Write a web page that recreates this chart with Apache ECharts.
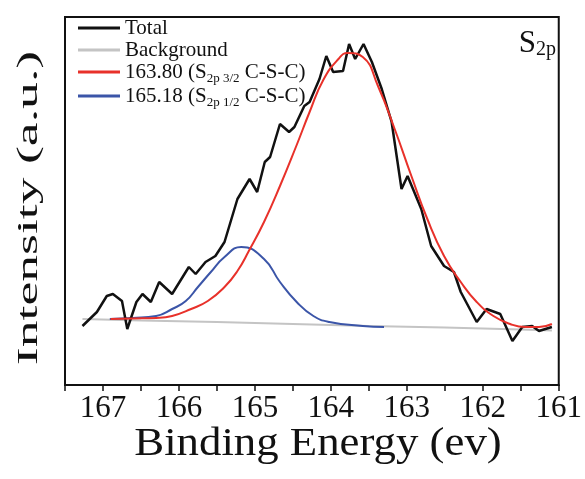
<!DOCTYPE html>
<html>
<head>
<meta charset="utf-8">
<script src="https://cdn.jsdelivr.net/npm/echarts@6/dist/echarts.min.js"></script>
<style>
  html, body { margin: 0; padding: 0; background: #fff; }
  #main { width: 585px; height: 479px; }
</style>
</head>
<body>
<div id="main"></div>
<script>
// binding energy (eV) / intensity (a.u.)
const totalData = [
  [167.27, 59], [167.08, 73], [166.95, 89], [166.87, 91], [166.75, 84], [166.68, 56],
  [166.56, 83], [166.48, 91], [166.37, 83], [166.26, 103], [166.09, 91], [165.87, 118],
  [165.78, 111], [165.65, 123], [165.52, 129], [165.40, 143], [165.23, 186], [165.07, 206],
  [164.97, 193], [164.87, 223], [164.80, 228], [164.67, 261], [164.55, 253], [164.48, 258],
  [164.35, 279], [164.28, 283], [164.15, 306], [164.06, 329], [163.97, 313], [163.84, 314],
  [163.76, 341], [163.68, 326], [163.57, 341], [163.46, 323], [163.33, 296], [163.20, 263],
  [163.07, 196], [162.99, 209], [162.81, 176], [162.68, 139], [162.51, 119], [162.38, 113],
  [162.29, 93], [162.08, 63], [161.95, 76], [161.77, 71], [161.61, 44], [161.48, 58],
  [161.35, 59], [161.26, 54], [161.09, 58]
]
const backgroundData = [
  [167.27, 66], [166.5, 64.5], [165.5, 63], [164.5, 61], [163.5, 59], [162.5, 57.5],
  [161.5, 55.5], [161.09, 54.5]
]
const peak1Data = [ // 163.80
  [166.9, 66], [166.61, 66.5], [166.30, 67], [166.09, 69], [165.84, 76], [165.62, 84],
  [165.40, 98], [165.23, 114], [165.08, 134], [164.88, 163], [164.67, 199], [164.45, 240],
  [164.28, 273], [164.10, 305], [163.90, 326], [163.78, 332], [163.58, 328], [163.38, 299],
  [163.16, 256], [162.94, 209], [162.73, 166], [162.51, 129], [162.29, 103], [162.08, 83],
  [161.86, 69], [161.64, 61], [161.44, 58], [161.26, 58], [161.09, 61]
]
const peak2Data = [ // 165.18
  [166.91, 66], [166.61, 67], [166.30, 69], [166.09, 76], [165.91, 84], [165.75, 98],
  [165.58, 113], [165.40, 128], [165.18, 138], [164.88, 126], [164.67, 103], [164.45, 83],
  [164.23, 69], [164.02, 63], [163.58, 59], [163.3, 58]
]
const xTicks = [167, 166, 165, 164, 163, 162, 161]

const names = ['Total', 'Background', '163.80 (S2p 3/2 C-S-C)', '165.18 (S2p 1/2 C-S-C)']
const legendText = {
  'Total': 'Total',
  'Background': 'Background',
  '163.80 (S2p 3/2 C-S-C)': '163.80 (S{s|2p 3/2} C-S-C)',
  '165.18 (S2p 1/2 C-S-C)': '165.18 (S{s|2p 1/2} C-S-C)'
}
const serif = '"Liberation Serif", "Times New Roman", serif'

let myChart = echarts.init(document.getElementById('main'))
let option = {
  animation: false,
  backgroundColor: '#fff',
  title: {
    text: '{a|S}{b|2p}',
    right: 24,
    top: 23,
    textStyle: {
      fontWeight: 'normal',
      rich: {
        a: { fontFamily: serif, fontSize: 31, fontWeight: 'normal', color: '#111', verticalAlign: 'top', lineHeight: 31 },
        b: { fontFamily: serif, fontSize: 20, fontWeight: 'normal', color: '#111', verticalAlign: 'top', padding: [12, 0, 0, 0], lineHeight: 20 }
      }
    }
  },
  legend: {
    data: names,
    orient: 'vertical',
    left: 73,
    top: 12,
    itemGap: 0,
    itemWidth: 42,
    itemHeight: 3,
    icon: 'rect',
    selectedMode: false,
    formatter: function (name) {
      return legendText[name]
    },
    textStyle: {
      fontFamily: serif,
      fontSize: 21,
      color: '#111',
      lineHeight: 22,
      rich: {
        s: { fontFamily: serif, fontSize: 13, color: '#111', verticalAlign: 'top', padding: [11, 0, 0, 0], lineHeight: 13 }
      }
    }
  },
  grid: {
    left: 65,
    right: 18,
    top: 17,
    bottom: 94,
    show: true,
    borderColor: '#111',
    borderWidth: 2
  },
  xAxis: {
    type: 'value',
    min: 161,
    max: 167.5,
    interval: 0.5,
    inverse: true,
    axisLine: { lineStyle: { color: '#111', width: 2 } },
    axisTick: { length: 6, lineStyle: { color: '#111', width: 1.5 } },
    splitLine: { show: false },
    axisLabel: {
      fontFamily: serif,
      fontSize: 31,
      color: '#111',
      margin: 8,
      formatter: function (v) {
        return xTicks.indexOf(v) >= 0 ? String(v) : ''
      }
    }
  },
  yAxis: {
    type: 'value',
    min: 0,
    max: 368,
    show: false
  },
  graphic: [
    {
      type: 'text',
      x: 318,
      y: 444,
      scaleX: 1.12,
      style: {
        text: 'Binding Energy (ev)',
        font: '40px ' + serif,
        fill: '#111',
        align: 'center',
        verticalAlign: 'middle'
      }
    },
    {
      type: 'text',
      x: 29,
      y: 208,
      rotation: Math.PI / 2,
      scaleX: 1.85,
      style: {
        text: 'Intensity (a.u.)',
        font: '29px ' + serif,
        fill: '#111',
        align: 'center',
        verticalAlign: 'middle'
      }
    }
  ],
  series: [
    {
      name: 'Background',
      type: 'line',
      data: backgroundData,
      smooth: true,
      showSymbol: false,
      lineStyle: { color: '#c4c4c4', width: 2 },
      itemStyle: { color: '#c4c4c4' },
      z: 2
    },
    {
      name: '165.18 (S2p 1/2 C-S-C)',
      type: 'line',
      data: peak2Data,
      smooth: true,
      showSymbol: false,
      lineStyle: { color: '#3b55a8', width: 2 },
      itemStyle: { color: '#3b55a8' },
      z: 3
    },
    {
      name: 'Total',
      type: 'line',
      data: totalData,
      showSymbol: false,
      lineStyle: { color: '#111', width: 2.5 },
      itemStyle: { color: '#111' },
      z: 4
    },
    {
      name: '163.80 (S2p 3/2 C-S-C)',
      type: 'line',
      data: peak1Data,
      smooth: true,
      showSymbol: false,
      lineStyle: { color: '#e8312a', width: 2 },
      itemStyle: { color: '#e8312a' },
      z: 5
    }
  ]
}
myChart.setOption(option, true)
window.addEventListener('resize', () => { myChart.resize() })
</script>
</body>
</html>
